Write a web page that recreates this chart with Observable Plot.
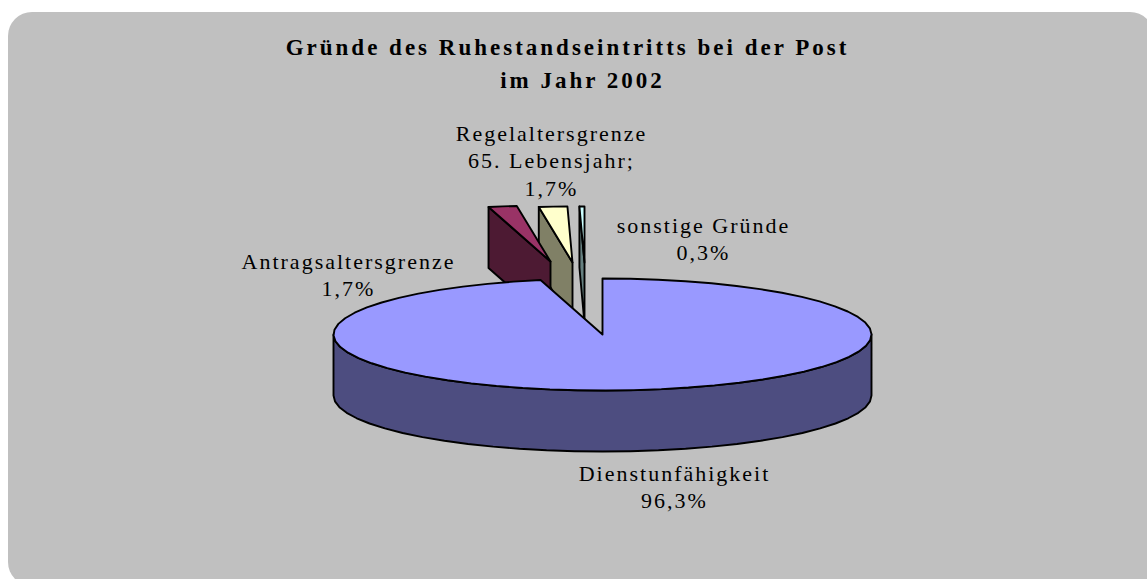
<!DOCTYPE html>
<html><head><meta charset="utf-8">
<script src="https://cdn.jsdelivr.net/npm/d3@7"></script>
<script src="https://cdn.jsdelivr.net/npm/@observablehq/plot@0.6"></script>
<style>
html,body{margin:0;padding:0;background:#fff;overflow:hidden}
svg{display:block}
.ttl text{letter-spacing:3px}
.lbl text{letter-spacing:2px}
</style></head><body><div id="chart"></div>
<script>
const categories = ["Dienstunfähigkeit","Antragsaltersgrenze","Regelaltersgrenze 65. Lebensjahr","sonstige Gründe"];
const shares = [96.3, 1.7, 1.7, 0.3];
const topColors = ["#9999ff","#993366","#ffffcc","#ccffff"];
const sideColors = ["#4d4d80","#4d1a33","#808066","#668080"];
const titleLines = ["Gründe des Ruhestandseintritts bei der Post","im Jahr 2002"];
const titleX = [567,582];
const labelLines = [
  ["Dienstunfähigkeit","96,3%"],
  ["Antragsaltersgrenze","1,7%"],
  ["Regelaltersgrenze","65. Lebensjahr;","1,7%"],
  ["sonstige Gründe","0,3%"]
];
const W=1147,H=579, rx=269, ry=56, depth=61, cx=602, cy=334;
const offsets=[[0,0],[-52,-73],[-30,-72],[-18,-72]];
const labelPos=[[674,473],[348,261],[551,133],[703,225]];
const lineStep=27.5;

const total=d3.sum(shares);
let acc=0;
const slices=shares.map((s,i)=>{const a0=acc/total*2*Math.PI; acc+=s; const a1=acc/total*2*Math.PI;
  return {i,a0,a1,ox:cx+offsets[i][0],oy:cy+offsets[i][1]};});
const pt=(s,a,dz=0)=>({x:s.ox+rx*Math.sin(a),y:s.oy-ry*Math.cos(a)+dz});
function arc(s,a0,a1,dz=0){const n=Math.max(1,Math.ceil(Math.abs(a1-a0)/(Math.PI/30)));
  return d3.range(n+1).map(k=>pt(s,a0+(a1-a0)*k/n,dz));}
const apex=(s,dz=0)=>({x:s.ox,y:s.oy+dz});
const poly=(pts,fill)=>Plot.line([...pts,pts[0]],{x:"x",y:"y",fill,stroke:"#000",strokeWidth:1.9,strokeLinejoin:"round",curve:"linear"});

const marks=[];
marks.push(Plot.rect([{x1:8,x2:1154,y1:12,y2:586}],{x1:"x1",x2:"x2",y1:"y1",y2:"y2",fill:"#c0c0c0",rx:24}));
// exploded slices, farthest to nearest
for(const i of [3,2,1]){const s=slices[i];
  const bl=pt(s,s.a0);
  marks.push(poly([bl,apex(s),apex(s,depth),pt(s,s.a0,depth)],sideColors[i]));
  marks.push(poly([apex(s),...arc(s,s.a0,s.a1)],topColors[i]));
}
// main slice
const m=slices[0];
marks.push(poly([...arc(m,Math.PI/2,3*Math.PI/2),...arc(m,3*Math.PI/2,Math.PI/2,depth)],sideColors[0]));
marks.push(poly([apex(m),...arc(m,m.a0,m.a1)],topColors[0]));
// text
const tl=titleLines.map((t,k)=>({t,x:titleX[k],y:47+k*33}));
marks.push(Plot.text(tl,{x:"x",y:"y",text:"t",fontSize:23,fontWeight:"bold",fontFamily:"Liberation Serif",fill:"#000",className:"ttl",textAnchor:"middle",lineAnchor:"middle"}));
const ll=labelLines.flatMap((ls,i)=>ls.map((t,k)=>({t,x:labelPos[i][0],y:labelPos[i][1]+k*lineStep})));
marks.push(Plot.text(ll,{x:"x",y:"y",text:"t",fontSize:22,fontFamily:"Liberation Serif",fill:"#000",className:"lbl",textAnchor:"middle",lineAnchor:"middle"}));

const chart=Plot.plot({width:W,height:H,margin:0,
  x:{domain:[0,W],range:[0,W],axis:null},
  y:{domain:[0,H],range:[0,H],axis:null},
  marks});
document.getElementById("chart").append(chart);
</script></body></html>
